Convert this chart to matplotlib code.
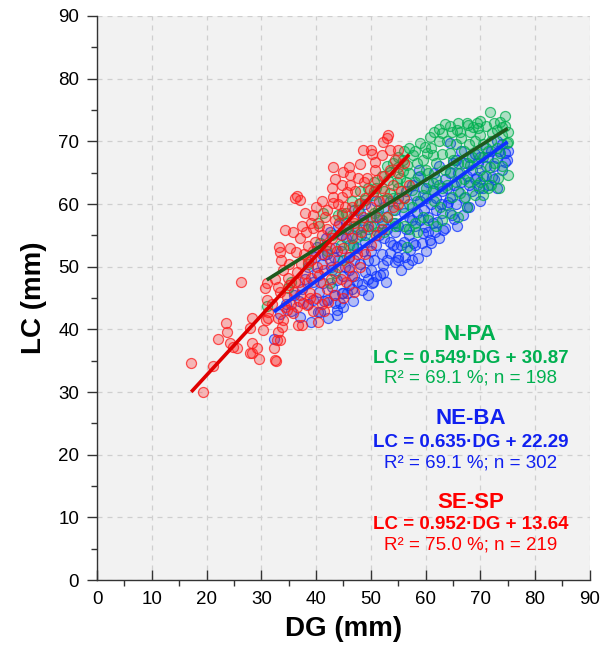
import numpy as np
import matplotlib
matplotlib.use("Agg")
import matplotlib.pyplot as plt
from matplotlib.ticker import MultipleLocator

# ---------------- data ----------------
red_pts = [
    (17.2,34.6),(19.4,30.0),(21.2,34.1),(22.1,38.5),(23.5,41.0),(23.7,39.6),(24.3,37.8),(24.8,37.2),
    (25.6,37.0),(26.3,47.6),(27.9,36.2),(27.9,40.2),(28.3,41.8),(28.3,37.8),(28.3,36.2),(29.2,37.0),
    (29.6,35.3),(30.3,39.9),(30.9,41.5),(31.0,44.7),(31.2,42.8),(30.7,46.6),(31.0,47.4),(32.5,35.1),
    (32.3,37.0),(32.9,38.3),(33.0,39.6),(33.6,51.1),(33.4,52.3),(33.2,53.1),(33.8,40.4),(34.0,41.5),
    (34.3,43.6),(34.7,45.2),(34.9,48.2),(35.8,42.6),(36.5,49.1),(37.4,40.7),(37.6,44.2),(38.3,47.4),
    (38.9,45.8),(40.3,41.2),(33.0,46.8),(34.7,43.1),(33.0,41.8),(31.2,41.8),(36.7,40.7),(32.7,34.9),
    (33.4,38.3),(36.1,47.5),(38.3,43.9),(38.9,45.0),(42.2,44.4),(41.5,43.0),
    (34.3,55.8),(35.8,55.6),(36.1,61.0),(36.6,61.3),(37.1,60.6),(38.5,53.3),(39.4,58.2),(39.4,56.2),
    (41.1,55.0),(41.6,57.9),(43.1,65.9),(43.4,64.0),(43.1,61.1),(43.1,60.2),(44.9,65.1),(46.0,65.9),
    (46.2,64.6),(44.7,63.0),(46.2,63.0),(47.6,64.1),(49.3,64.1),(51.1,63.8),(45.6,61.9),(44.7,61.1),
    (49.8,62.2),(52.0,62.5),(46.5,59.5),(46.8,58.0),(48.0,66.4),(48.6,68.6),(50.0,68.6),(50.2,68.0),
    (52.0,67.8),(53.5,68.6),(54.9,68.6),(50.7,66.7),(54.4,67.0),(53.1,71.0),(52.9,70.5),(52.2,69.9),
    (36.0,46.0),(36.8,47.5),(37.2,50.5),(37.8,52.0),(38.0,49.0),(38.6,50.8),(39.0,48.2),(39.5,52.5),
    (39.8,54.0),(40.2,50.0),(36.3,52.4),(37.0,54.5),(38.2,55.5),(39.0,57.0),(40.5,56.5),(40.8,47.5),
    (41.0,52.0),(41.5,49.5),(41.8,53.5),(42.0,56.0),(42.5,51.0),(42.8,48.0),(43.0,54.5),(43.5,57.5),
    (43.8,52.5),(44.0,50.0),(44.5,55.0),(44.8,58.5),(45.0,53.0),(45.5,47.5),(45.8,56.0),(46.0,51.5),
    (46.5,54.5),(47.0,57.0),(47.5,52.0),(47.8,60.0),(48.2,55.5),(48.5,58.0),(49.0,61.0),(49.5,56.5),
    (50.0,59.5),(50.5,62.0),(51.0,58.0),(51.5,60.5),(52.5,64.5),(53.0,61.0),(53.5,65.5),(54.0,63.0),
    (55.0,65.0),(55.5,62.0),(56.0,66.5),(42.0,59.0),(43.0,62.5),(44.0,60.0),(41.0,60.5),(40.0,59.5),
    (38.0,58.5),(37.5,56.5),(40.0,45.0),(41.0,44.0),(42.0,46.5),(43.5,45.5),(44.5,48.0),(45.0,45.0),
    (46.5,48.5),(47.0,46.0),(48.0,50.0),(49.0,52.0),(50.0,53.5),(51.0,55.0),(52.0,56.0),(53.0,58.0),
    (54.0,59.5),(55.0,60.0),(56.0,61.0),(57.0,63.0),(35.0,47.0),(35.5,44.0),(36.5,43.5),(33.5,46.0),
    (32.0,44.0),(32.5,48.0),(34.0,49.5),(35.0,50.5),(35.2,53.0),(39.5,43.0),(40.6,48.6),(42.6,53.0),
    (44.2,57.0),(45.2,59.5),(47.2,62.0),(48.8,63.5),(50.8,65.5),(46.0,50.0),(39.0,51.0),(37.0,45.5),
]

blue_pts = [
    (32.3,38.4),(33.5,42.5),(34.5,44.0),(35.5,43.0),(36.0,45.5),(36.8,44.5),(37.5,46.5),(37.0,42.0),
    (38.0,48.0),(38.5,44.0),(39.0,41.2),(39.4,44.7),(40.3,42.8),(40.5,46.0),(40.2,49.0),(41.0,50.5),
    (41.3,47.4),(41.5,44.5),(42.0,44.7),(42.0,52.0),(39.5,47.5),(40.2,53.1),(38.5,50.0),(41.8,54.5),
    (40.7,42.8),(42.2,41.8),(42.9,46.8),(43.4,44.2),(43.8,42.3),(43.8,43.1),(44.4,44.2),(44.7,45.8),
    (45.6,45.8),(43.8,47.9),(44.9,45.8),(45.3,50.0),(43.0,49.5),(44.0,51.0),(45.0,48.5),(43.5,53.0),
    (44.5,52.5),(45.5,54.5),(46.0,47.0),(46.0,51.5),(42.5,55.5),(44.0,56.5),(45.5,57.0),(46.0,49.5),
    (42.8,50.0),(43.2,45.5),(45.0,43.5),(44.8,55.0),(46.5,46.5),(47.0,48.5),(47.5,47.6),(48.4,46.3),
    (48.4,47.2),(48.9,49.1),(49.5,48.0),(47.0,51.0),(47.5,53.0),(48.0,50.5),(48.5,52.5),(49.0,54.0),
    (49.5,51.0),(50.0,52.5),(46.5,55.0),(47.5,56.0),(48.5,57.5),(49.5,56.0),(50.0,49.5),(50.2,47.4),
    (50.4,47.6),(47.0,59.0),(48.0,58.5),(49.0,60.0),(46.8,53.5),(48.2,55.0),(51.0,48.5),(51.7,48.7),
    (52.2,49.0),(52.2,50.3),(53.5,52.2),(54.4,50.7),(54.9,51.1),(54.8,53.1),(55.0,51.5),(50.5,51.0),
    (51.0,53.5),(51.5,55.0),(52.0,52.0),(52.5,54.5),(53.0,56.0),(53.5,54.0),(54.0,57.0),(54.5,55.5),
    (50.5,56.5),(51.5,58.0),(52.5,59.5),(53.5,60.5),(54.5,59.0),(50.0,58.0),(51.0,60.5),(52.0,57.0),
    (53.0,51.0),(54.0,53.5),(55.0,56.5),(55.0,61.0),(56.2,51.5),(57.1,52.7),(57.8,53.8),(58.0,53.5),
    (58.6,51.4),(59.3,53.8),(59.9,56.3),(59.5,55.4),(56.0,54.0),(56.5,56.0),(57.0,55.0),(57.5,57.5),
    (58.0,56.5),(58.5,58.5),(59.0,57.5),(56.0,58.5),(57.0,60.0),(58.0,61.5),(59.0,60.5),(59.5,62.5),
    (56.5,62.0),(57.5,63.0),(58.6,64.3),(58.8,65.5),(55.5,53.5),(56.8,50.5),(59.8,59.0),(57.0,58.0),
    (60.8,54.3),(60.4,55.5),(61.0,53.8),(61.3,57.0),(62.0,59.0),(62.1,57.1),(63.2,55.8),(63.5,56.2),
    (64.1,60.3),(63.9,59.8),(64.8,58.2),(65.2,57.6),(60.5,58.0),(61.0,60.0),(61.5,62.0),(62.0,61.0),
    (62.5,63.0),(63.0,62.0),(63.5,64.0),(64.0,62.5),(64.5,65.0),(64.4,69.7),(65.0,66.5),(60.5,63.5),
    (61.5,65.0),(62.5,66.0),(63.0,58.5),(64.5,61.0),(60.0,61.0),(61.8,55.5),(62.8,60.0),(66.8,58.2),
    (65.5,60.0),(66.0,62.0),(66.5,63.5),(67.0,61.0),(67.5,64.5),(68.0,63.0),(68.5,65.5),(69.0,64.0),
    (69.4,64.3),(69.5,66.5),(66.0,65.0),(67.0,66.5),(68.0,67.5),(69.0,68.0),(65.5,67.0),(66.5,68.5),
    (67.5,59.5),(68.5,62.0),(65.2,63.0),(69.8,62.5),(70.5,64.5),(71.0,66.0),(71.5,67.5),(72.1,64.3),
    (72.6,64.0),(73.0,67.3),(73.5,68.5),(74.5,66.7),(74.5,68.1),(74.8,67.0),(70.0,67.5),(71.0,69.0),
    (72.0,68.5),(73.0,70.0),(74.0,69.5),(70.5,62.5),(71.5,63.0),(72.5,66.0),(74.0,65.5),(75.0,68.5),
    (39.8,51.5),(41.5,51.8),(43.2,51.5),(46.8,44.5),(49.5,45.5),(52.8,47.5),(55.5,49.5),(57.5,51.0),
    (60.0,52.5),(62.5,54.5),(65.8,56.5),(68.0,59.5),(70.0,60.5),(73.0,62.5),
]

green_pts = [
    (31.0,43.7),(34.9,46.6),(35.5,47.5),(38.5,50.5),(40.3,57.0),(40.7,53.8),(41.3,58.6),(42.5,47.4),
    (43.5,49.0),(44.0,58.2),(44.7,58.2),(42.0,52.5),(43.0,55.0),(44.5,53.5),(45.0,51.0),(45.5,56.0),
    (46.0,53.5),(46.7,53.1),(47.5,54.7),(47.6,59.0),(48.0,60.2),(48.6,56.3),(48.9,60.6),(49.8,57.9),
    (50.4,61.4),(51.1,55.5),(51.3,59.0),(52.2,60.6),(53.1,63.8),(53.5,61.8),(53.5,65.1),(54.0,59.0),
    (54.8,63.5),(54.9,65.9),(55.3,64.1),(55.8,65.3),(55.9,67.0),(55.9,59.5),(56.6,66.2),(56.6,53.1),
    (57.5,62.2),(57.7,67.8),(59.0,69.7),(59.5,61.4),(59.9,69.1),(60.2,68.1),(60.8,70.7),(61.3,62.2),
    (61.3,67.8),(61.3,63.3),(62.6,59.5),(63.0,71.3),(64.4,65.1),(64.4,68.1),(64.8,71.5),(64.8,61.1),
    (65.7,71.8),(66.3,64.9),(66.3,61.8),(66.3,71.5),(67.2,61.1),(67.7,72.6),(68.1,71.5),(68.1,66.2),
    (68.6,72.3),(69.4,72.9),(69.4,63.0),(69.6,72.1),(69.9,65.4),(70.5,67.5),(71.4,62.5),(71.7,74.7),
    (71.7,65.9),(72.1,71.3),(73.0,71.8),(73.2,64.1),(73.6,68.1),(73.6,73.1),(73.9,72.3),(74.5,74.0),
    (74.8,69.7),(75.0,64.6),(75.0,69.9),
    (50.0,56.5),(50.5,58.5),(51.0,62.5),(52.0,57.5),(52.5,62.0),(53.0,58.0),(54.0,61.0),(54.5,57.0),
    (55.0,62.5),(56.0,61.0),(56.5,63.5),(57.0,65.0),(57.5,59.5),(58.0,63.5),(58.5,66.5),(58.5,60.5),
    (59.0,64.5),(59.5,67.0),(60.0,62.5),(60.5,65.0),(61.0,69.0),(61.5,60.5),(62.0,64.0),(62.0,66.5),
    (62.5,70.0),(63.0,62.5),(63.0,68.0),(63.5,65.5),(64.0,63.0),(64.0,70.0),(65.0,67.0),(65.5,69.5),
    (65.5,63.5),(66.0,66.5),(66.5,70.5),(67.0,64.0),(67.0,68.5),(67.5,66.5),(68.0,69.5),(68.0,63.5),
    (68.5,67.5),(69.0,70.0),(69.5,68.0),(70.0,71.0),(70.0,63.5),(70.5,69.5),(71.0,72.5),(71.0,64.5),
    (71.5,68.5),(72.0,70.0),(72.5,66.5),(72.5,73.0),(73.0,69.0),(74.0,71.0),(74.0,66.0),(74.5,72.5),
    (75.0,71.5),(73.5,62.5),(72.0,63.0),(70.5,61.5),(69.0,61.5),(67.5,59.5),(66.0,58.0),(64.5,58.5),
    (63.0,57.5),(62.0,56.5),(60.5,57.5),(59.5,58.0),(58.0,57.0),(57.0,56.0),(56.0,56.5),(60.0,65.5),
    (61.5,71.5),(62.5,72.0),(63.5,72.8),(64.5,72.5),(66.0,73.0),(67.5,73.0),(70.0,73.3),(58.0,68.5),
    (57.0,69.0),(56.0,68.5),(55.0,67.5),(54.0,66.5),(53.0,66.0),(52.0,64.5),(50.5,63.5),(49.5,62.5),
    (48.0,62.0),(46.5,60.5),(45.5,58.5),(47.0,56.5),(49.0,55.0),(52.5,55.5),(54.5,56.5),(58.5,55.5),
]

series = [
    # name, points, slope, intercept, r2, n, point colour, line colour, text colour
    ("N-PA", green_pts, 0.549, 30.87, "69.1", 198, (0.0, 0.69, 0.31), "#1d5a1d", "#00b050"),
    ("NE-BA", blue_pts, 0.635, 22.29, "69.1", 302, (0.05, 0.2, 1.0), "#1030ff", "#1020f0"),
    ("SE-SP", red_pts, 0.952, 13.64, "75.0", 219, (1.0, 0.1, 0.1), "#e00000", "#ff0000"),
]
draw_order = [1, 0, 2]
text_y = {"N-PA": (39.1, 35.3, 32.2), "NE-BA": (25.8, 22.0, 18.7), "SE-SP": (12.4, 8.8, 5.6)}
text_x = 68.2

# ---------------- figure ----------------
plt.rcParams['font.family'] = ['Liberation Sans', 'DejaVu Sans']
fig = plt.figure(figsize=(6.03, 6.61), dpi=100)
ax = fig.add_axes([0.161, 0.1225, 0.817, 0.8533])
ax.set_facecolor("#f2f2f2")

for i in draw_order:
    name, pts, m, b, r2, n, pc, lc, tc = series[i]
    arr = np.array(pts)
    ax.scatter(arr[:, 0], arr[:, 1], s=52, facecolors=[pc + (0.28,)],
               edgecolors=[pc + (0.75,)], linewidths=0.9, zorder=3)

for name, pts, m, b, r2, n, pc, lc, tc in series:
    arr = np.array(pts)
    xs = np.array([arr[:, 0].min(), arr[:, 0].max()])
    ax.plot(xs, m * xs + b, color=lc, lw=2.6, zorder=5, solid_capstyle='butt')
    y1, y2, y3 = text_y[name]
    ax.text(text_x, y1, name, color=tc, fontsize=16, fontweight='bold', ha='center', va='center')
    ax.text(text_x, y2, f"LC = {m:.3f}\u00b7DG + {b:.2f}", color=tc, fontsize=13.5,
            fontweight='bold', ha='center', va='center')
    ax.text(text_x, y3, f"R\u00b2 = {r2} %; n = {n}", color=tc, fontsize=13.5,
            ha='center', va='center')

ax.set_xlim(0, 90)
ax.set_ylim(0, 90)
ax.xaxis.set_major_locator(MultipleLocator(10))
ax.yaxis.set_major_locator(MultipleLocator(10))
ax.xaxis.set_minor_locator(MultipleLocator(5))
ax.yaxis.set_minor_locator(MultipleLocator(5))
ax.grid(True, which='major', color='#cfcfcf', linestyle=(0, (4, 4)), lw=0.9)
ax.set_axisbelow(True)

for s in ['top', 'right']:
    ax.spines[s].set_visible(False)
for s in ['left', 'bottom']:
    ax.spines[s].set_color('#333333')
    ax.spines[s].set_linewidth(1.0)

ax.tick_params(axis='x', which='major', direction='in', length=7, width=1, color='#333333',
               labelsize=13.5, pad=8)
ax.tick_params(axis='x', which='minor', direction='out', length=4, width=1, color='#333333')
ax.tick_params(axis='y', which='major', direction='out', length=7, width=1, color='#333333',
               labelsize=13.5, pad=6)
ax.tick_params(axis='y', which='minor', direction='out', length=4, width=1, color='#333333')

ax.set_xlabel("DG (mm)", fontsize=20, fontweight='bold', labelpad=6)
ax.set_ylabel("LC (mm)", fontsize=20, fontweight='bold', labelpad=8)

fig.savefig("out.png", dpi=100, facecolor='white')
